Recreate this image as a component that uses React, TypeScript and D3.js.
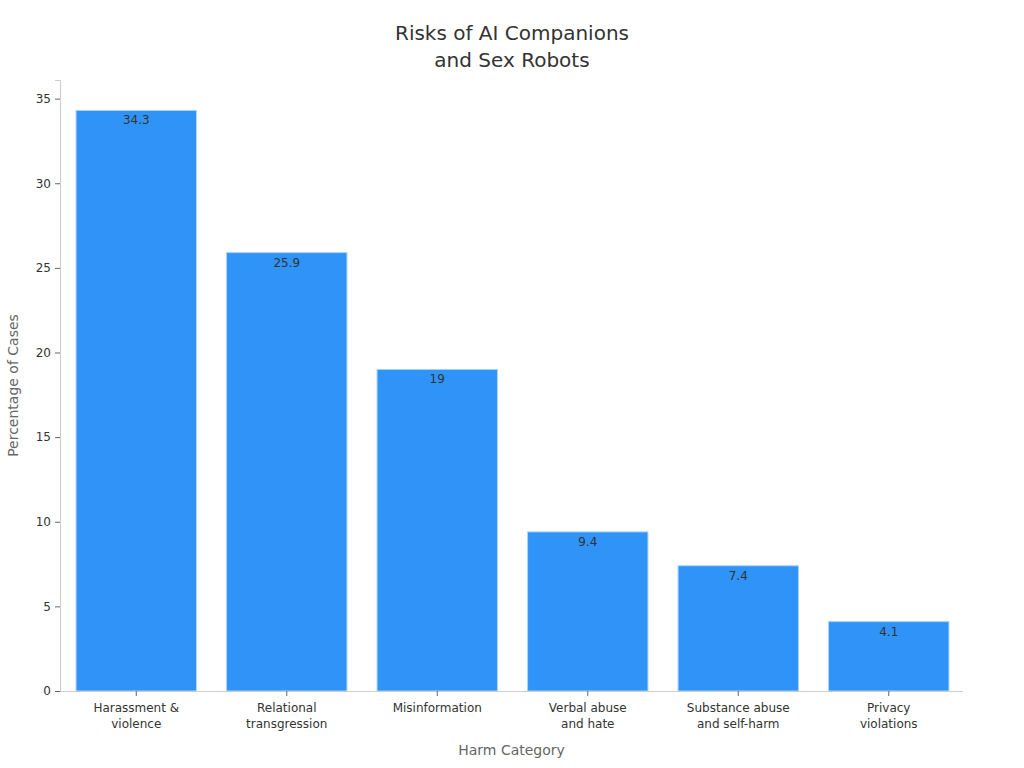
import React, { useEffect, useRef } from 'react';
import * as d3 from 'd3';

const categories: string[][] = [
  ['Harassment &', 'violence'],
  ['Relational', 'transgression'],
  ['Misinformation'],
  ['Verbal abuse', 'and hate'],
  ['Substance abuse', 'and self-harm'],
  ['Privacy', 'violations'],
];
const percentages = [34.3, 25.9, 19, 9.4, 7.4, 4.1];
const yTicks = [0, 5, 10, 15, 20, 25, 30, 35];

const App: React.FC = () => {
  const svgRef = useRef<SVGSVGElement | null>(null);

  useEffect(() => {
    if (!svgRef.current) return;
    const width = 1024;
    const height = 768;
    const margin = { top: 80, right: 61, bottom: 77, left: 60 };
    const innerW = width - margin.left - margin.right;
    const innerH = height - margin.top - margin.bottom;

    const root = d3.select(svgRef.current);
    root.selectAll('*').remove();
    root.attr('width', width).attr('height', height)
      .style('font-family', '"DejaVu Sans", sans-serif');

    // Title
    root.append('text')
      .attr('x', width / 2)
      .attr('text-anchor', 'middle')
      .style('font-size', '20px')
      .attr('fill', '#333')
      .selectAll('tspan')
      .data(['Risks of AI Companions', 'and Sex Robots'])
      .enter().append('tspan')
      .attr('x', width / 2)
      .attr('y', (d, i) => 40 + i * 27)
      .text(d => d);

    const svg = root.append('g')
      .attr('transform', `translate(${margin.left},${margin.top})`);

    const keys = categories.map(c => c.join(' '));
    const x = d3.scaleBand()
      .domain(keys)
      .range([1, innerW + 1])
      .paddingInner(0.2)
      .paddingOuter(0.1);

    const y = d3.scaleLinear()
      .domain([0, 36.1])
      .range([innerH, 0]);

    // Bars
    svg.selectAll('.bar')
      .data(percentages)
      .enter().append('rect')
      .attr('class', 'bar')
      .attr('x', (d, i) => x(keys[i]) ?? 0)
      .attr('y', d => y(d))
      .attr('width', x.bandwidth())
      .attr('height', d => innerH - y(d))
      .attr('fill', '#2f93f8')
      .attr('stroke', '#a9d3fb')
      .attr('stroke-width', 1);

    // Value labels
    svg.selectAll('.val')
      .data(percentages)
      .enter().append('text')
      .attr('class', 'val')
      .attr('x', (d, i) => (x(keys[i]) ?? 0) + x.bandwidth() / 2)
      .attr('y', d => y(d) + 14)
      .attr('text-anchor', 'middle')
      .style('font-size', '12px')
      .attr('fill', '#333')
      .text(d => `${d}`);

    // Y axis
    const yAxis = svg.append('g')
      .call(d3.axisLeft(y).tickValues(yTicks).tickSize(5).tickPadding(4));
    yAxis.select('.domain').attr('stroke', '#ccc');
    yAxis.selectAll('.tick line').attr('stroke', '#666');
    yAxis.selectAll('.tick text')
      .style('font-size', '12px')
      .style('font-family', '"DejaVu Sans", sans-serif')
      .attr('fill', '#333');

    // X axis
    const xAxis = svg.append('g')
      .attr('transform', `translate(0,${innerH})`)
      .call(d3.axisBottom(x).tickSize(5).tickSizeOuter(0).tickFormat(() => ''));
    xAxis.select('.domain').attr('stroke', '#ccc').attr('d', `M0,0.5H${innerW}`);
    xAxis.selectAll('.tick line').attr('stroke', '#666');

    svg.selectAll('.xlab')
      .data(categories)
      .enter().append('text')
      .attr('class', 'xlab')
      .attr('text-anchor', 'middle')
      .style('font-size', '12px')
      .attr('fill', '#333')
      .each(function (lines, i) {
        const cx = (x(keys[i]) ?? 0) + x.bandwidth() / 2;
        d3.select(this).selectAll('tspan')
          .data(lines)
          .enter().append('tspan')
          .attr('x', cx)
          .attr('y', (d, j) => innerH + 21 + j * 16)
          .text(d => d);
      });

    // Axis titles
    svg.append('text')
      .attr('text-anchor', 'middle')
      .attr('x', innerW / 2)
      .attr('y', innerH + 64)
      .style('font-size', '14px')
      .attr('fill', '#666')
      .text('Harm Category');

    svg.append('text')
      .attr('text-anchor', 'middle')
      .attr('transform', 'rotate(-90)')
      .attr('x', -innerH / 2)
      .attr('y', -42)
      .style('font-size', '14px')
      .attr('fill', '#666')
      .text('Percentage of Cases');
  }, []);

  return (
    <div style={{ position: 'absolute', left: 0, top: 0 }}>
      <svg ref={svgRef} />
    </div>
  );
};

export default App;
